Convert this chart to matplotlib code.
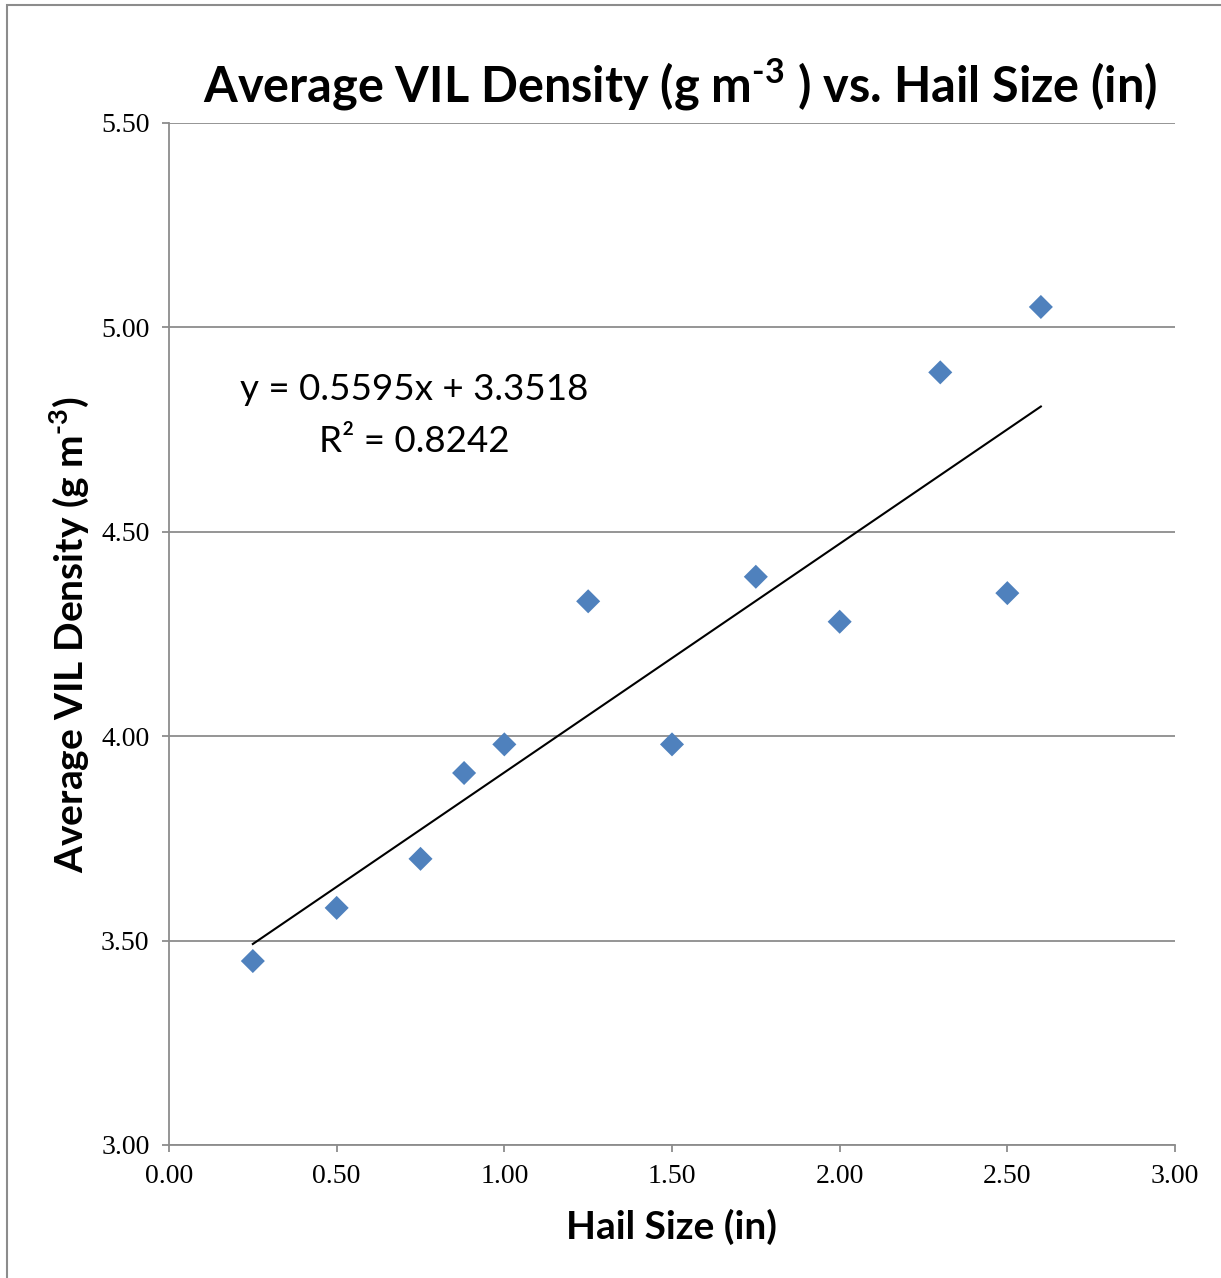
import matplotlib.pyplot as plt
import matplotlib.patches as mpatches

# hail size (in) and average VIL density (g m^-3)
hail_size = [0.25, 0.50, 0.75, 0.88, 1.00, 1.25, 1.50, 1.75, 2.00, 2.30, 2.50, 2.60]
vil_density = [3.45, 3.58, 3.70, 3.91, 3.98, 4.33, 3.98, 4.39, 4.28, 4.89, 4.35, 5.05]

slope = 0.5595
intercept = 3.3518
r_squared = 0.8242

x_ticks = [0.0, 0.5, 1.0, 1.5, 2.0, 2.5, 3.0]
y_ticks = [3.0, 3.5, 4.0, 4.5, 5.0, 5.5]

# only the bold labels use mathtext here
plt.rcParams["mathtext.fontset"] = "custom"
plt.rcParams["mathtext.rm"] = "Lato:bold"
plt.rcParams["mathtext.bf"] = "Lato:bold"

fig = plt.figure(figsize=(12.21, 12.78), dpi=100)
ax = fig.add_axes([169 / 1221, 1 - 1145 / 1278, (1175 - 169) / 1221, (1145 - 123) / 1278])

# outer chart frame
fig.patches.append(mpatches.Rectangle((7 / 1221, -0.1), 1.2, 1 - 5 / 1278 + 0.1,
                                      transform=fig.transFigure, fill=False,
                                      edgecolor="#8c8c8c", linewidth=1.5))

ax.scatter(hail_size, vil_density, marker="D", s=150, color="#4f81bd", zorder=3,
           edgecolors="none")

x_fit = [min(hail_size), max(hail_size)]
y_fit = [slope * v + intercept for v in x_fit]
ax.plot(x_fit, y_fit, color="black", linewidth=1.5, zorder=2)

ax.set_xlim(0, 3)
ax.set_ylim(3, 5.5)
ax.set_xticks(x_ticks)
ax.set_yticks(y_ticks)
ax.set_xticklabels([f"{v:.2f}" for v in x_ticks])
ax.set_yticklabels([f"{v:.2f}" for v in y_ticks])
ax.yaxis.grid(True, color="#8c8c8c", linewidth=1.3)
ax.set_axisbelow(True)

for side in ["top", "right"]:
    ax.spines[side].set_visible(False)
for side in ["left", "bottom"]:
    ax.spines[side].set_color("#8c8c8c")
    ax.spines[side].set_linewidth(1.3)

ax.tick_params(axis="both", color="#8c8c8c", width=1.3, length=5,
               labelsize=20, pad=9)
for lbl in ax.get_xticklabels() + ax.get_yticklabels():
    lbl.set_fontfamily("Liberation Serif")

ax.set_xlabel("Hail Size (in)", fontfamily="Lato", fontweight="bold",
              fontsize=28, labelpad=14)
ax.set_ylabel(r"Average VIL Density (g m$^{\text{-3}}$)", fontfamily="Lato",
              fontweight="bold", fontsize=28, labelpad=7)

fig.text(680 / 1221, 1 - 85 / 1278,
         r"Average VIL Density (g m$^{\text{-3}}$ ) vs. Hail Size (in)",
         fontfamily="Lato", fontweight="bold", fontsize=35,
         ha="center", va="center")

ax.text(414 / 1221, 1 - 390 / 1278, f"y = {slope}x + {intercept}",
        transform=fig.transFigure, fontfamily="Lato", fontsize=26.5,
        ha="center", va="center")
ax.text(414 / 1221, 1 - 441 / 1278, f"R² = {r_squared}",
        transform=fig.transFigure, fontfamily="Lato", fontsize=26.5,
        ha="center", va="center")

fig.savefig("out.png", dpi=100)
